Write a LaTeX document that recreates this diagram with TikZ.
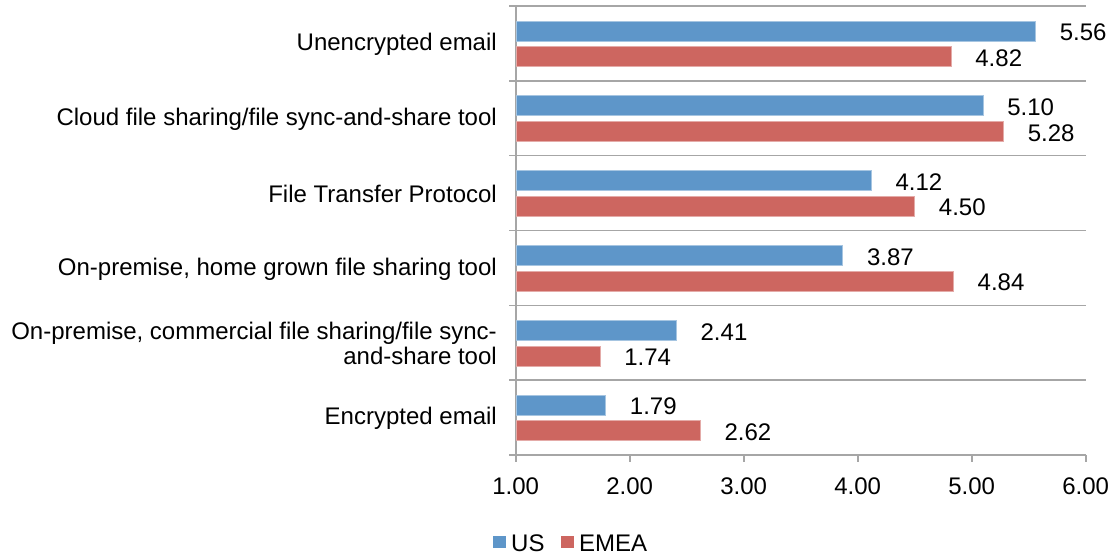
\documentclass[tikz,border=0pt]{standalone}
\usepackage{fontspec}
\setmainfont{Liberation Sans}
\definecolor{usblue}{HTML}{5E96C9}
\definecolor{emred}{HTML}{CD6660}
\definecolor{gridgray}{HTML}{A6A6A6}
\begin{document}
\begin{tikzpicture}[x=1pt,y=-1pt,
  lbl/.style={font=\fontsize{24}{25}\selectfont, inner sep=0pt},
  gridline/.style={draw=gridgray, line width=1.6pt},
  usbar/.style={fill=usblue, draw=usblue!55!white, line width=0.8pt},
  embar/.style={fill=emred, draw=emred!55!white, line width=0.8pt}]
\useasboundingbox (0,0) rectangle (1117,556);
% grid / separators
\foreach \i in {0,...,6} {
  \draw[gridline] (509,{6+74.83*\i}) -- (1085.7,{6+74.83*\i});
}
\draw[gridline] (515.7,6) -- (515.7,455);
\foreach \t/\lab in {0/1.00,1/2.00,2/3.00,3/4.00,4/5.00,5/6.00} {
  \draw[gridline] ({515.7+114*\t},455) -- ({515.7+114*\t},461.5);
  \node[lbl] (tick\t) at ({515.7+114*\t},486) {\lab};
}
% bars and data labels
\foreach \i/\us/\ve in {0/5.56/4.82,1/5.10/5.28,2/4.12/4.50,3/3.87/4.84,4/2.41/1.74,5/1.79/2.62} {
  \pgfmathsetmacro\yt{6+74.83*\i}
  \draw[usbar] (516.5,{\yt+15}) rectangle ({515.7+(\us-1)*114},{\yt+35});
  \draw[embar] (516.5,{\yt+40.7}) rectangle ({515.7+(\ve-1)*114},{\yt+60.7});
  \node[lbl, anchor=west] (usl\i) at ({515.7+(\us-1)*114+24},{\yt+26.5}) {\us};
  \node[lbl, anchor=west] (eml\i) at ({515.7+(\ve-1)*114+24},{\yt+52}) {\ve};
}
% category labels
\node[lbl, anchor=east] (c0) at (497,44.5) {Unencrypted email};
\node[lbl, anchor=east] (c1) at (497,119.3) {Cloud file sharing/file sync-and-share tool};
\node[lbl, anchor=east] (c2) at (497,194.2) {File Transfer Protocol};
\node[lbl, anchor=east] (c3) at (497,269) {On-premise, home grown file sharing tool};
\node[lbl, anchor=east, align=right] (c4) at (497,343.3) {On-premise, commercial file sharing/file sync-\\and-share tool};
\node[lbl, anchor=east] (c5) at (497,418.7) {Encrypted email};
% legend
\fill[usblue] (493,536) rectangle (506,548);
\node[lbl, anchor=west] (legus) at (511,543) {US};
\fill[emred] (561,536) rectangle (574,548);
\node[lbl, anchor=west] (legem) at (579,543) {EMEA};
\end{tikzpicture}
\end{document}
